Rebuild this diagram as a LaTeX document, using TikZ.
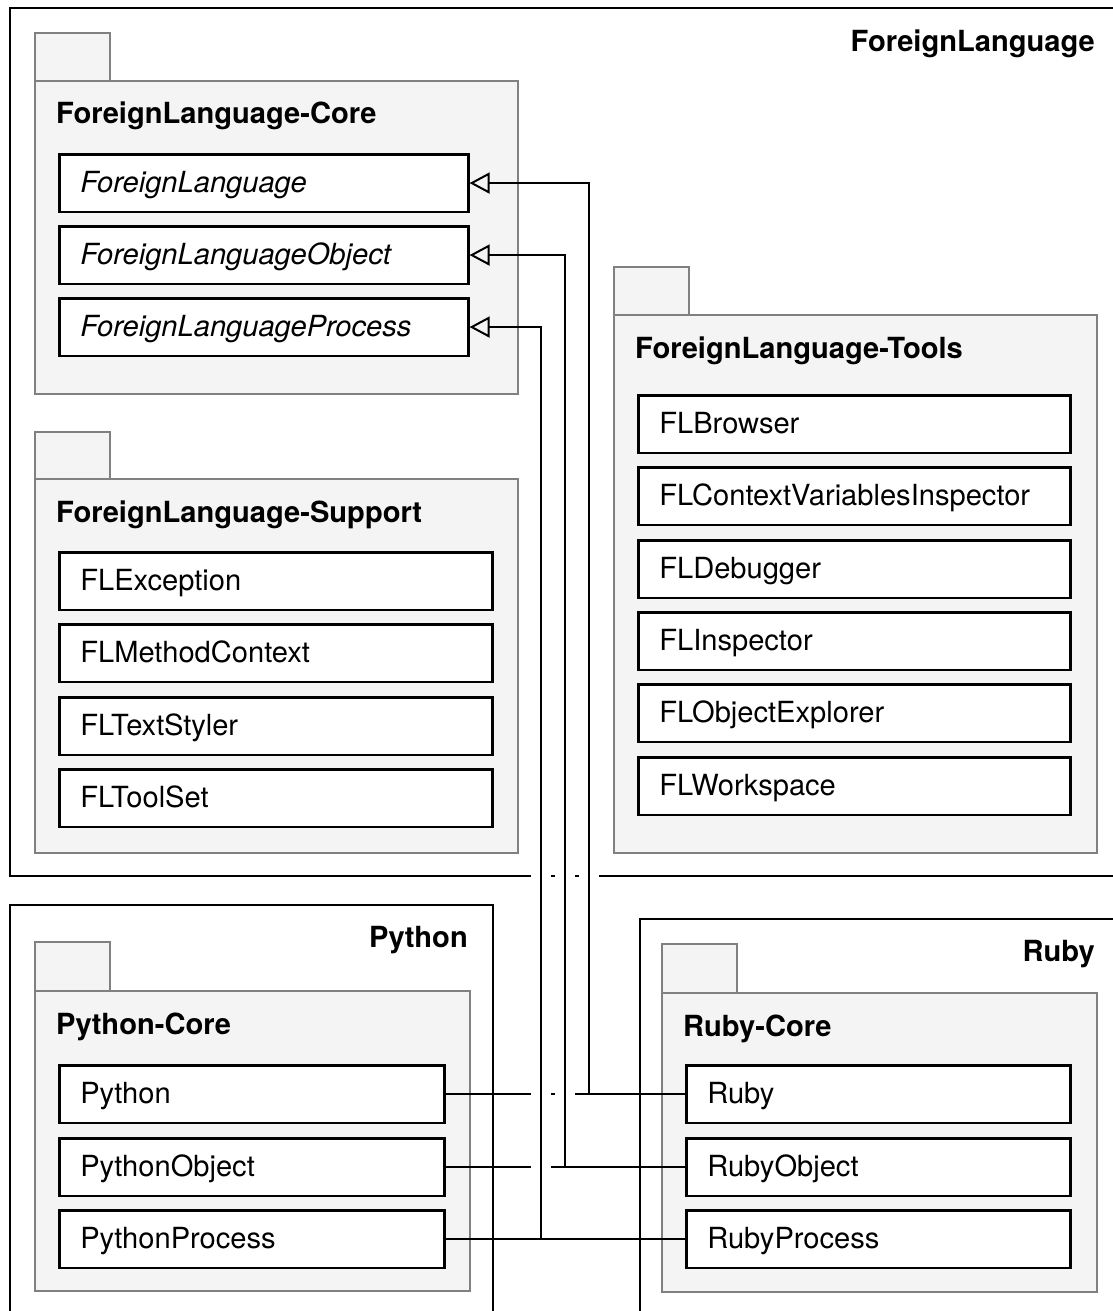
\documentclass[tikz,border=0pt]{standalone}
\usepackage{fontspec}
\setmainfont{TeX Gyre Heros}
\usetikzlibrary{arrows.meta,calc}
\definecolor{pkgfill}{RGB}{244,244,244}
\definecolor{pkgline}{RGB}{128,128,128}

\newcommand\diagfont{\fontsize{29.1pt}{34pt}\selectfont}

\tikzset{
  frame/.style={draw=black, line width=2pt},
  pkg/.style={draw=pkgline, fill=pkgfill, line width=2pt, anchor=north west, inner sep=0pt},
  cls/.style={draw=black, fill=white, line width=2.6pt, anchor=north west,
    minimum height=57.5pt, inner xsep=21pt, inner ysep=0pt,
    text height=19pt, text depth=0pt, align=left},
  title/.style={font=\diagfont\bfseries, inner sep=0pt},
  conn/.style={draw=black, line width=2pt},
  gen/.style={conn, -{Triangle[open, length=20pt, width=21pt]}},
  halo/.style={draw=white, line width=20pt},
}

% class box: name, x, y (top left), width, text
\newcommand\umlclass[5]{%
  \node[cls, minimum width=\the\dimexpr #4pt-2pt\relax,
    text width=\the\dimexpr #4pt-44pt\relax] (#1) at (#2,#3) {#5};}
% package: name, x, y (body top left), width, height, tab top, label
\newcommand\umlpackage[7]{%
  \node[pkg, minimum width=75pt, minimum height=\the\dimexpr #3pt-#6pt\relax] (#1tab) at (#2,#6) {};
  \node[pkg, minimum width=#4pt, minimum height=#5pt] (#1) at (#2,#3) {};
  \node[title, anchor=base west] (#1label) at (#2+22,#3+44) {#7};}

\begin{document}
\begin{tikzpicture}[x=1pt, y=-1pt, font=\diagfont]
  \clip (0,0) rectangle (1113,1311);
  \fill[white] (0,0) rectangle (1113,1311);

  % outer frames
  \draw[frame] (10,8) rectangle (1140,876);
  \node[title, anchor=base east] (flFrameLabel) at (1095,52) {ForeignLanguage};
  \draw[frame] (10,905) rectangle (493,1340);
  \node[title, anchor=base east] (pyFrameLabel) at (468,947) {Python};
  \draw[frame] (640,919) rectangle (1140,1340);
  \node[title, anchor=base east] (rbFrameLabel) at (1095,961) {Ruby};

  % ForeignLanguage-Core
  \umlpackage{core}{34}{80}{483}{313}{32}{ForeignLanguage-Core}
  \umlclass{fl}{58}{153}{411}{\itshape ForeignLanguage}
  \umlclass{flObj}{58}{225}{411}{\itshape ForeignLanguageObject}
  \umlclass{flProc}{58}{297}{411}{\itshape ForeignLanguageProcess}

  % ForeignLanguage-Support
  \umlpackage{support}{34}{478}{483}{374}{431}{ForeignLanguage-Support}
  \umlclass{flExc}{58}{551}{435}{FLException}
  \umlclass{flMeth}{58}{623}{435}{FLMethodContext}
  \umlclass{flStyler}{58}{696}{435}{FLTextStyler}
  \umlclass{flToolSet}{58}{768}{435}{FLToolSet}

  % ForeignLanguage-Tools
  \umlpackage{tools}{613}{314}{483}{538}{266}{ForeignLanguage-Tools}
  \umlclass{flBrowser}{637}{394}{434}{FLBrowser}
  \umlclass{flCtx}{637}{466}{434}{FLContextVariablesInspector}
  \umlclass{flDbg}{637}{539}{434}{FLDebugger}
  \umlclass{flInsp}{637}{611}{434}{FLInspector}
  \umlclass{flExpl}{637}{683}{434}{FLObjectExplorer}
  \umlclass{flWs}{637}{756}{434}{FLWorkspace}

  % Python-Core
  \umlpackage{pyCore}{34}{990}{435}{300}{941}{Python-Core}
  \umlclass{py}{58}{1064}{387}{Python}
  \umlclass{pyObj}{58}{1137}{387}{PythonObject}
  \umlclass{pyProc}{58}{1209}{387}{PythonProcess}

  % Ruby-Core
  \umlpackage{rbCore}{661}{992}{435}{299}{943}{Ruby-Core}
  \umlclass{rb}{685}{1064}{386}{Ruby}
  \umlclass{rbObj}{685}{1137}{386}{RubyObject}
  \umlclass{rbProc}{685}{1209}{386}{RubyProcess}

  % vertical buses of the generalizations
  \coordinate (busA) at (589,0);
  \coordinate (busB) at (565,0);
  \coordinate (busC) at (541,0);

  % links between the Python and Ruby classes
  \draw[conn] (py.east) -- (rb.west);
  \draw[conn] (pyObj.east) -- (rbObj.west);
  \draw[conn] (pyProc.east) -- (rbProc.west);

  % white gaps where the buses cross other lines
  \draw[halo] ($(py.east -| busA)+(0,-12)$) -- ($(fl.east -| busA)+(0,12)$);
  \draw[halo] ($(pyObj.east -| busB)+(0,-12)$) -- ($(flObj.east -| busB)+(0,12)$);
  \draw[halo] ($(pyProc.east -| busC)+(0,-12)$) -- ($(flProc.east -| busC)+(0,12)$);

  % generalizations up to the abstract classes
  \draw[gen] (py.east -| busA) |- (fl.east);
  \draw[gen] (pyObj.east -| busB) |- (flObj.east);
  \draw[gen] (pyProc.east -| busC) |- (flProc.east);
\end{tikzpicture}
\end{document}
